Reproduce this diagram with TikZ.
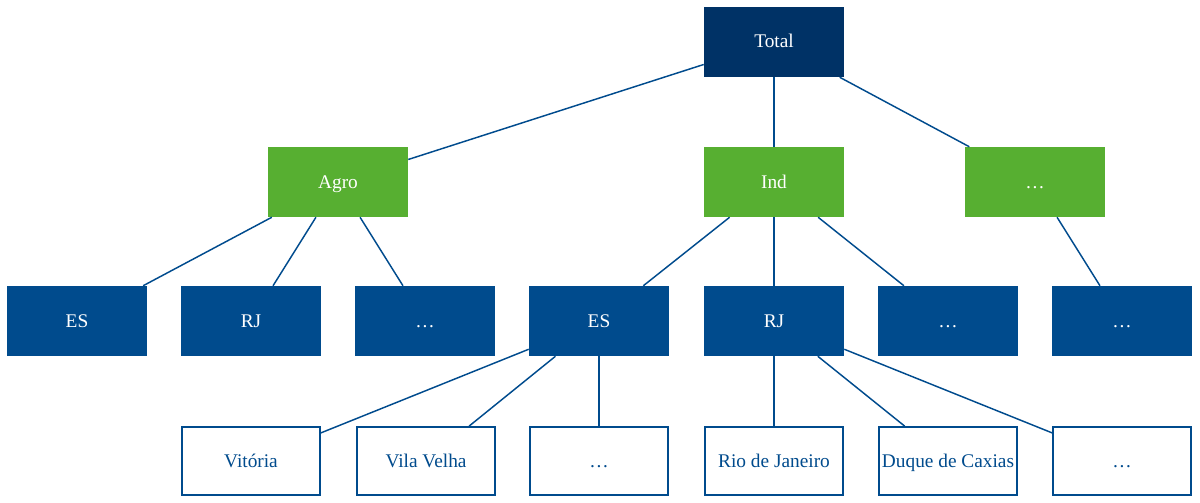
\documentclass[tikz,border=0pt]{standalone}
\usepackage{fontspec}
\setmainfont{Liberation Serif}
\definecolor{navy}{RGB}{0,50,102}
\definecolor{leafgreen}{RGB}{87,175,49}
\definecolor{stateblue}{RGB}{0,75,141}
\tikzset{
    box/.style={rectangle, minimum width=105pt, minimum height=52.5pt, inner sep=0pt,
        text height=12pt, text depth=3pt,
        font=\rmfamily\fontsize{14.5}{17}\selectfont},
    topbox/.style={box, fill=navy, text=white},
    sectorbox/.style={box, fill=leafgreen, text=white},
    statebox/.style={box, fill=stateblue, text=white},
    citybox/.style={box, draw=stateblue, line width=1.4pt, fill=white, text=stateblue,
        minimum width=103.5pt, minimum height=51pt},
    link/.style={stateblue, line width=1.1pt}
}
\begin{document}
\begin{tikzpicture}[x=0.75pt, y=-0.75pt]
            \useasboundingbox (0, 0) rectangle (1200, 503);

            \node[topbox] (total) at (774, 42) {Total};

            \node[sectorbox] (agro) at (338, 182) {Agro};
            \node[sectorbox] (ind) at (774, 182) {Ind};
            \node[sectorbox] (sec3) at (1035, 182) {\ldots};

            \node[statebox] (agroES) at (77, 321) {ES};
            \node[statebox] (agroRJ) at (251, 321) {RJ};
            \node[statebox] (agroX) at (425, 321) {\ldots};
            \node[statebox] (indES) at (599, 321) {ES};
            \node[statebox] (indRJ) at (774, 321) {RJ};
            \node[statebox] (indX) at (948, 321) {\ldots};
            \node[statebox] (sec3X) at (1122, 321) {\ldots};

            \node[citybox] (vitoria) at (251, 461) {Vitória};
            \node[citybox] (vilavelha) at (426, 461) {Vila Velha};
            \node[citybox] (esX) at (599, 461) {\ldots};
            \node[citybox] (rio) at (774, 461) {Rio de Janeiro};
            \node[citybox] (caxias) at (948, 461) {Duque de Caxias};
            \node[citybox] (rjX) at (1122, 461) {\ldots};

            \draw[link] (total) -- (agro);
            \draw[link] (total) -- (ind);
            \draw[link] (total) -- (sec3);

            \draw[link] (agro) -- (agroES);
            \draw[link] (agro) -- (agroRJ);
            \draw[link] (agro) -- (agroX);
            \draw[link] (ind) -- (indES);
            \draw[link] (ind) -- (indRJ);
            \draw[link] (ind) -- (indX);
            \draw[link] (sec3) -- (sec3X);

            \draw[link] (indES) -- (vitoria);
            \draw[link] (indES) -- (vilavelha);
            \draw[link] (indES) -- (esX);
            \draw[link] (indRJ) -- (rio);
            \draw[link] (indRJ) -- (caxias);
            \draw[link] (indRJ) -- (rjX);
        \end{tikzpicture}
\end{document}
